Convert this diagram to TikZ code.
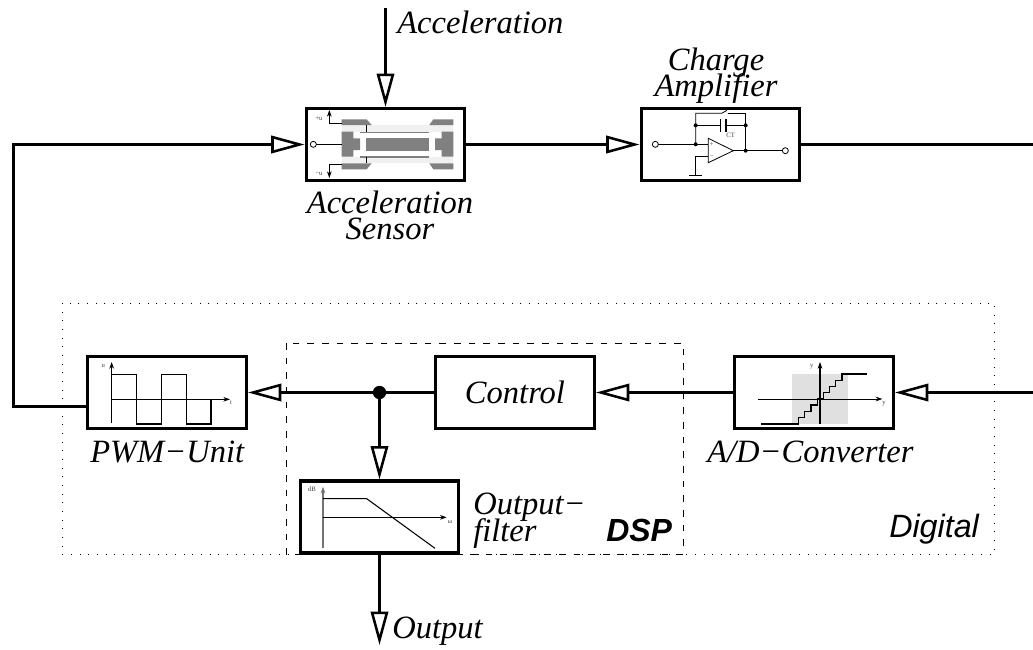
\documentclass[tikz,border=0pt]{standalone}
\usepackage{fontspec}
\setmainfont{Liberation Serif}
\setsansfont{Liberation Sans}
\usetikzlibrary{arrows.meta}
\newcommand{\tightlinesx}{\setlength{\lineskiplimit}{-100pt}}
\tikzset{
  blockbox/.style={draw=black,line width=2.4pt,minimum width=119pt,minimum height=54pt,inner sep=0pt},
  flow/.style={line width=2.2pt,-{Triangle[open,length=25pt,width=13pt,line width=1.9pt]}},
  plain/.style={line width=2.2pt},
  lab/.style={font={\fontsize{24.4}{19.5}\selectfont\itshape\tightlinesx},inner sep=0pt,align=center},
  tinylab/.style={font=\fontsize{5}{5}\selectfont,inner sep=0pt,text=black!75},
  wire/.style={line width=.6pt},
  tipline/.style={line width=.6pt,-{Stealth[length=5pt,width=3.5pt]}},
  term/.style={draw=black,fill=white,circle,line width=.6pt,minimum size=4.5pt,inner sep=0pt},
  dotj/.style={fill=black,circle,minimum size=3pt,inner sep=0pt},
  darkmetal/.style={fill=black!50,draw=none},
}
\begin{document}
\begin{tikzpicture}[x=.75pt,y=-.75pt]
\useasboundingbox (0,0) rectangle (1033,650);
\fill[white] (0,0) rectangle (1033,650);
% groups
\draw[line width=.75pt,dash pattern=on .75pt off 5.75pt] (62,303) rectangle (994,554);
\draw[line width=.75pt,dash pattern=on 5pt off 6pt] (286,343) rectangle (683,554);
% blocks
\node[blockbox] (sensor) at (385.5,144.5) {};
\node[blockbox] (charge) at (720.5,144.5) {};
\node[blockbox] (pwm) at (167,392.5) {};
\node[blockbox] (ctrl) at (515,392.5) {\fontsize{24.4}{24}\selectfont\itshape Control};
\node[blockbox] (adc) at (814,392.5) {};
\node[blockbox] (filt) at (379.5,517) {};
\node[dotj,minimum size=10pt] (junc) at (379.5,392.5) {};
% free ends
\coordinate (accin) at (385.5,8);
\coordinate (rightA) at (1033,144.5);
\coordinate (rightB) at (1033,392.5);
\coordinate (outend) at (379.5,645);
\coordinate (pwmout) at (86,406.5);
\coordinate (cornerA) at (13.5,406.5);
\coordinate (cornerB) at (13.5,144.5);
% connectors
\draw[flow] (accin) -- (sensor.north);
\draw[flow] (sensor.east) -- (charge.west);
\draw[plain] (charge.east) -- (rightA);
\draw[flow] (rightB) -- (adc.east);
\draw[flow] (adc.west) -- (ctrl.east);
\draw[plain] (ctrl.west) -- (junc);
\draw[flow] (junc) -- (pwm.east);
\draw[flow] (junc) -- (filt.north);
\draw[flow] (filt.south) -- (outend);
\draw[flow,line join=miter] (pwmout) -- (cornerA) -- (cornerB) -- (sensor.west);
% labels
\node[lab,anchor=base west] (tacc) at (397,33) {Acceleration};
\node[lab,anchor=base] (tch) at (716,96) {Charge\\[-.7pt]Amplifier};
\node[lab,anchor=base] (ts) at (390,239) {Acceleration\\Sensor};
\node[lab,anchor=base west] (tpwm) at (90,462) {PWM−Unit};
\node[lab,anchor=base west] (tad) at (707,462) {A/D−Converter};
\node[lab,anchor=base west,align=left] (to) at (473,541) {Output−\\[.5pt]filter};
\node[lab,anchor=base west] (tout) at (392,638) {Output};
\node[anchor=base west,inner sep=0pt,font=\fontsize{24}{24}\selectfont\sffamily\bfseries\itshape] (tdsp) at (606,541) {DSP};
\node[anchor=base west,inner sep=0pt,font=\fontsize{24.2}{24}\selectfont\sffamily\itshape] (tdig) at (889,537) {Digital};
% sensor inner
\begin{scope}[shift={(290,90)},x=.25pt,y=-.25pt]
\fill[black!6] (155,105) rectangle (490,220);
\fill[white] (190,125) rectangle (455,200);
\fill[darkmetal] (155,88)--(230,88)--(245,105)--(155,105)--cycle;
\fill[darkmetal] (490,88)--(430,88)--(418,105)--(490,105)--cycle;
\fill[darkmetal] (155,238)--(230,238)--(245,220)--(155,220)--cycle;
\fill[darkmetal] (490,238)--(430,238)--(418,220)--(490,220)--cycle;
\fill[darkmetal] (155,125)--(190,125)--(190,145)--(210,145)--(210,180)--(190,180)--(190,200)--(155,200)--cycle;
\fill[darkmetal] (490,125)--(455,125)--(455,145)--(435,145)--(435,180)--(455,180)--(455,200)--(490,200)--cycle;
\fill[darkmetal] (228,145) rectangle (417,183);
\fill[darkmetal] (210,125) rectangle (417,129);
\fill[darkmetal] (210,198) rectangle (417,203);
\draw[wire] (230,105)--(230,125) (230,200)--(230,220);
\draw[wire] (79,163)--(155,163);
\node[term] (sc) at (70,163) {};
\draw[tipline] (155,100)--(118,100)--(118,60);
\draw[tipline] (155,222)--(118,222)--(118,264);
\node[tinylab] (sp) at (87,85) {+u};
\node[tinylab] (sm) at (87,252) {−u};
\end{scope}
% charge amp inner
\begin{scope}[shift={(630,90)},x=.25pt,y=-.25pt]
\draw[wire] (85,163)--(235,163);
\draw[wire] (197,163)--(197,70)--(275,70)--(291,61);
\draw[wire] (293,70)--(347,70)--(347,182);
\draw[wire] (197,106)--(272,106) (288,106)--(347,106);
\draw[line width=.8pt] (272,87)--(272,125) (288,87)--(288,125);
\draw[wire] (235,145)--(235,218)--(310,182)--cycle;
\draw[wire] (235,200)--(197,200)--(197,256);
\draw[line width=.8pt] (178,256)--(216,256);
\draw[wire] (310,182)--(457,182);
\node[term] (ci) at (76,163) {};
\node[term] (co) at (466,182) {};
\node[dotj] (d1) at (197,163) {};
\node[dotj] (d2) at (197,106) {};
\node[dotj] (d3) at (347,106) {};
\node[dotj] (d4) at (347,182) {};
\node[tinylab] (ct) at (302,137) {CT};
\node[tinylab] (cp) at (245,165) {+};
\node[tinylab] (cm) at (245,201) {−};
\end{scope}
% pwm inner
\begin{scope}[shift={(70,340)},x=.25pt,y=-.25pt]
\draw[tipline,line width=.8pt] (125,250)--(125,66);
\draw[tipline] (125,178)--(480,178);
\draw[line width=.8pt] (125,103)--(200,103)--(200,252)--(274,252)--(274,103)--(349,103)--(349,252)--(423,252)--(423,178);
\node[tinylab] (pu) at (100,77) {u};
\node[tinylab] (pt) at (483,188) {t};
\end{scope}
% filter inner
\begin{scope}[shift={(280,460)},x=.25pt,y=-.25pt]
\draw[tipline,draw=black!55,line width=1pt] (129,265)--(129,80);
\draw[tipline] (129,172)--(500,172);
\draw[line width=.8pt] (129,116)--(260,116)--(465,265);
\node[tinylab] (fd) at (96,89) {dB};
\node[tinylab] (fw) at (510,186) {ω};
\end{scope}
% adc inner
\begin{scope}[shift={(720,340)},x=.25pt,y=-.25pt]
\fill[black!12] (217,102) rectangle (384,252);
\draw[tipline,line width=.8pt] (300,252)--(300,66);
\draw[tipline] (114,177)--(487,177);
\draw[line width=.8pt] (124,252)--(236,252)--(236,233)--(254,233)--(254,214)--(273,214)--(273,195)--(292,195)--(292,177)--(310,177)--(310,158)--(329,158)--(329,140)--(347,140)--(347,121)--(366,121)--(366,102)--(440,102);
\node[tinylab] (ay) at (275,80) {y};
\node[tinylab] (ax) at (492,190) {y};
\end{scope}
\end{tikzpicture}
\end{document}
